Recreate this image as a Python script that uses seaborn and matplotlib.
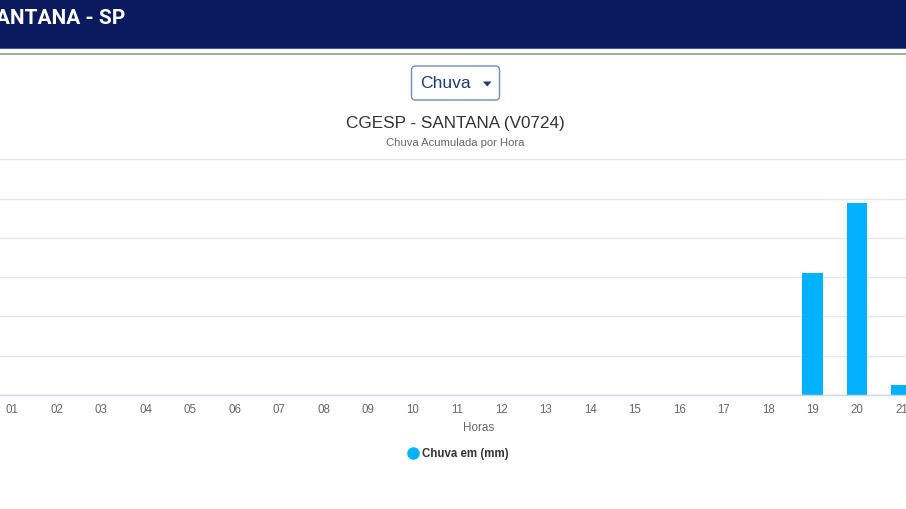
import matplotlib
matplotlib.use("Agg")
import matplotlib.pyplot as plt
import seaborn as sns
import pandas as pd
from matplotlib.patches import Rectangle, FancyBboxPatch, Polygon
from matplotlib.lines import Line2D

# ---------------- data ----------------
horas = [f"{h:02d}" for h in range(24)]
chuva_mm = [0, 0, 0, 0, 0, 0, 0, 0, 0, 0, 0, 0,
            0, 0, 0, 0, 0, 0, 0, 6.2, 9.8, 0.5, 0, 0]
serie_nome = "Chuva em (mm)"
titulo = "CGESP - SANTANA (V0724)"
subtitulo = "Chuva Acumulada por Hora"
cabecalho = "SANTANA - SP"
eixo_x = "Horas"
y_ticks = [0, 2, 4, 6, 8, 10, 12]

df = pd.DataFrame({"hora": horas, "chuva": chuva_mm})

# ---------------- style ----------------
sns.set_theme(style="white")
plt.rcParams["font.family"] = ["Liberation Sans", "DejaVu Sans"]

W, H = 906, 509
fig = plt.figure(figsize=(W / 100, H / 100), dpi=100)
fig.patch.set_facecolor("white")

bar_color = "#00b2ff"

# plot area in pixels (extends past the image, as in the cropped screenshot)
x_left, x_right = -54.4, 1012.6
y_top, y_base = 159.3, 395.0
ax = fig.add_axes([x_left / W, 1 - y_base / H, (x_right - x_left) / W, (y_base - y_top) / H])

sns.barplot(data=df, x="hora", y="chuva", order=horas, color=bar_color,
            width=0.46, saturation=1, ax=ax, zorder=3)
for p in ax.patches:
    p.set_edgecolor("none")

ax.set_xlim(-0.5, len(horas) - 0.5)
ax.set_ylim(y_ticks[0], y_ticks[-1])
ax.set_yticks(y_ticks)
ax.set_yticklabels([])
ax.yaxis.grid(True, color="#e6e6e6", linewidth=1)
ax.xaxis.grid(False)
ax.set_axisbelow(True)
for s in ["left", "right", "top"]:
    ax.spines[s].set_visible(False)
ax.spines["bottom"].set_color("#ccd6eb")
ax.spines["bottom"].set_linewidth(1)
ax.spines["bottom"].set_zorder(4)
ax.tick_params(axis="x", length=0, pad=6.5, labelsize=8.3, labelcolor="#666666")
ax.tick_params(axis="y", length=0)
ax.set_ylabel("")
ax.set_xlabel(eixo_x, fontsize=8.4, color="#666666", labelpad=4.5)
ax.set_facecolor("none")

ax.legend(handles=[Line2D([], [], marker="o", ls="", color=bar_color, markersize=8)],
          labels=[serie_nome], loc="center",
          bbox_to_anchor=(458 / W, 1 - 454 / H), bbox_transform=fig.transFigure,
          frameon=False, handletextpad=0.35, handlelength=1.0,
          prop={"weight": "bold", "size": 8.3}, labelcolor="#333333")

# ---------------- page chrome (pixel overlay) ----------------
ov = fig.add_axes([0, 0, 1, 1], zorder=10)
ov.set_xlim(0, W)
ov.set_ylim(H, 0)
ov.axis("off")
ov.patch.set_alpha(0)

ov.add_patch(Rectangle((0, 0), W, 48, color="#0a1a5e", lw=0))
ov.add_patch(Rectangle((0, 47.5), W, 1.5, color="#3d5599", lw=0))
ov.add_patch(Rectangle((0, 53.3), W, 1.8, color="#a9a9a9", lw=0))
ov.text(125, 18, cabecalho, color="white", fontsize=15, fontweight="bold",
        family=["Roboto", "DejaVu Sans"], ha="right", va="center")

# dropdown
ov.add_patch(FancyBboxPatch((411.5, 66), 88, 34, boxstyle="round,pad=0,rounding_size=4",
                            fc="white", ec="#6f8cbc", lw=1))
ov.text(420, 83.5, "Chuva", color="#1d3b7a", fontsize=12.6, ha="left", va="center")
ov.add_patch(Polygon([(483, 81.5), (491.5, 81.5), (487.25, 86.5)], closed=True,
                     color="#1d3b7a", lw=0))

# titles
ov.text(455.5, 123.5, titulo, color="#333333", fontsize=12.3, ha="center", va="center")
ov.text(455, 143, subtitulo, color="#666666", fontsize=8.1, ha="center", va="center")

fig.savefig("out.png", dpi=100)
